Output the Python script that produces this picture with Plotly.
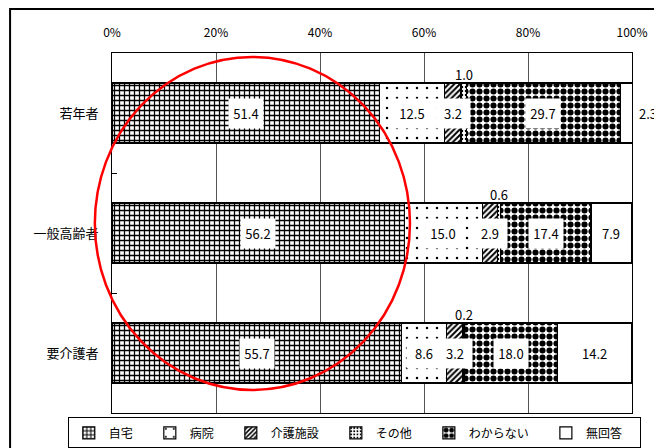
import plotly.graph_objects as go

categories = ["若年者", "一般高齢者", "要介護者"]
series_names = ["自宅", "病院", "介護施設", "その他", "わからない", "無回答"]
jitaku = [51.4, 56.2, 55.7]
byoin = [12.5, 15.0, 8.6]
kaigo = [3.2, 2.9, 3.2]
sonota = [1.0, 0.6, 0.2]
wakaranai = [29.7, 17.4, 18.0]
mukaito = [2.3, 7.9, 14.2]
tick_values = [0, 20, 40, 60, 80, 100]
tick_labels = ["0%", "20%", "40%", "60%", "80%", "100%"]

series_values = [jitaku, byoin, kaigo, sonota, wakaranai, mukaito]

FONT = "Noto Sans CJK JP"

patterns = [
    dict(shape="+", fgcolor="black", bgcolor="white", size=5, solidity=0.45, fgopacity=1),
    dict(shape=".", fgcolor="black", bgcolor="white", size=10, solidity=0.05, fgopacity=1),
    dict(shape="/", fgcolor="black", bgcolor="white", size=4, solidity=0.5, fgopacity=1),
    dict(shape=".", fgcolor="black", bgcolor="white", size=4, solidity=0.3, fgopacity=1),
    dict(shape=".", fgcolor="black", bgcolor="white", size=7, solidity=0.6, fgopacity=1),
    dict(shape="", fgcolor="white", bgcolor="white"),
]

fig = go.Figure()
for name, vals, pat in zip(series_names, series_values, patterns):
    marker = dict(color="white", line=dict(color="black", width=1.2))
    if pat["shape"]:
        marker["pattern"] = pat
    fig.add_trace(go.Bar(
        name=name + "\u3000", y=categories, x=vals, orientation="h",
        marker=marker, hoverinfo="skip",
    ))

LBL = dict(family=FONT, size=13, color="black")
annotations = []
for ci, cat in enumerate(categories):
    base = 0.0
    for si, (name, vals) in enumerate(zip(series_names, series_values)):
        v = vals[ci]
        mid = base + v / 2
        txt = f"{v:.1f}"
        if name == "その他":
            annotations.append(dict(x=mid, y=cat, text=txt, showarrow=False,
                                    yshift=39, font=LBL))
        elif name == "無回答" and v < 5:
            annotations.append(dict(x=100, y=cat, text=txt, showarrow=False,
                                    xanchor="left", xshift=5, font=LBL))
        elif name == "無回答":
            annotations.append(dict(x=mid, y=cat, text=txt, showarrow=False, font=LBL))
        else:
            annotations.append(dict(x=mid, y=cat, text=txt, showarrow=False,
                                    bgcolor="white", width=32, height=27, font=LBL))
        base += v

# page body has an 8px margin, so the figure is 8px smaller and all offsets shift by 8
fig.update_layout(
    width=654, height=440,
    margin=dict(l=104, r=30, t=45, b=35, autoexpand=False),
    paper_bgcolor="white", plot_bgcolor="white",
    barmode="stack", bargap=0.5,
    font=dict(family=FONT, size=12, color="black"),
    showlegend=True,
    legend=dict(
        orientation="h", x=-0.085, y=-0.012, xanchor="left", yanchor="top",
        bordercolor="black", borderwidth=1, bgcolor="white",
        itemwidth=30,
        font=dict(family=FONT, size=12, color="black"),
        traceorder="normal", tracegroupgap=0,
    ),
    annotations=annotations,
    shapes=[
        dict(type="rect", xref="paper", yref="paper", x0=-0.196, x1=1.08, y0=-0.15, y1=1.122,
             line=dict(color="black", width=2), fillcolor="rgba(0,0,0,0)", layer="above"),
        dict(type="circle", xref="paper", yref="paper", x0=-0.033, x1=0.573, y0=0.064, y1=0.989,
             line=dict(color="red", width=2.5), layer="above"),
    ],
)
fig.update_xaxes(
    side="top", range=[0, 100], tickvals=tick_values, ticktext=tick_labels,
    showgrid=True, gridcolor="#555", gridwidth=1, zeroline=False,
    showline=True, linecolor="black", linewidth=1, mirror=True,
    ticks="", automargin=False, ticklabelstandoff=10,
    tickfont=dict(family=FONT, size=12, color="black"),
)
fig.update_yaxes(
    categoryorder="array", categoryarray=categories, range=[2.5, -0.5],
    showline=True, linecolor="black", linewidth=1, mirror=True,
    ticks="inside", ticklen=5, tickson="boundaries", tickcolor="black",
    showgrid=False, ticklabelstandoff=10, automargin=False,
    tickfont=dict(family=FONT, size=13, color="black"),
)

fig.write_html("out.html")
